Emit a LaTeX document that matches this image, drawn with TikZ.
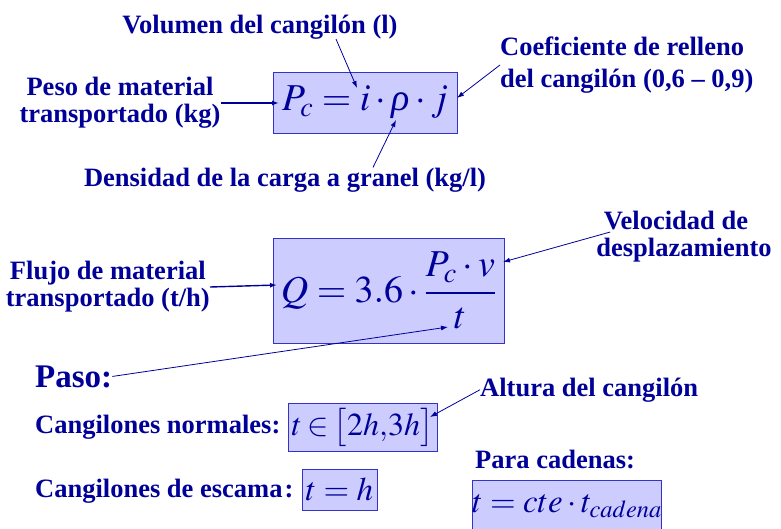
\documentclass[tikz,border=0pt]{standalone}
\usepackage{amsmath}
\usepackage{mathptmx}
\usepackage[no-math]{fontspec}
\setmainfont{Liberation Serif}
\usetikzlibrary{arrows.meta}
\definecolor{navy}{RGB}{0,0,153}
\definecolor{boxfill}{RGB}{204,204,255}
\definecolor{boxline}{RGB}{51,51,204}
\newcommand{\itrho}{\text{\itshape ρ}}

\begin{document}
\begin{tikzpicture}[x=1pt,y=-1pt,
    lbl/.style={text=navy,font=\bfseries\fontsize{26.5}{27}\selectfont,inner sep=0pt},
    eqbox/.style={draw=boxline,fill=boxfill,text=navy,inner sep=0pt,line width=1pt},
    arr/.style={draw=navy,line width=0.8pt,-{Latex[length=7pt,width=5pt]}},
    thickarr/.style={arr,line width=1.4pt}]
    \useasboundingbox (0,0) rectangle (781,528);
    \begin{scope}
      \node[eqbox,minimum width=184pt,minimum height=61pt] (pc) at (365,102.5) {\fontsize{38}{40}\selectfont$P_c=i\cdot\itrho\cdot j$};
      \node[lbl,anchor=base] (vol) at (260,33) {Volumen del cangilón (l)};
      \node[lbl,align=left,anchor=west] (coef) at (500,65) {Coeficiente de relleno\\[5pt]del cangilón (0,6 – 0,9)};
      \node[lbl,align=center] (peso) at (120,103) {Peso de material\\transportado (kg)};
      \node[lbl,anchor=base] (dens) at (285,186) {Densidad de la carga a granel (kg/l)};
      \coordinate (idot) at (357,88);
      \coordinate (jdot) at (457,98);
      \coordinate (rho) at (396,120);
      \coordinate (pin) at (279,103);
      \draw[arr] ([xshift=76pt]vol.south) -- (idot);
      \draw[arr] (coef.west) -- (jdot);
      \draw[arr] ([xshift=88pt]dens.north) -- (rho);
      \draw[thickarr] (peso.east) -- (pin);
    \end{scope}
    \begin{scope}
      \node[eqbox,minimum width=231pt,minimum height=105pt] (q) at (388.5,290.5) {\fontsize{38}{40}\selectfont$Q=3.6\cdot\dfrac{P_c\cdot v}{t}$};
      \node[lbl,align=center] (velo) at (684,237) {Velocidad de\hspace*{16pt}\\desplazamiento};
      \node[lbl,align=center,anchor=east] (flujo) at (210,287) {Flujo de material\\transportado (t/h)};
      \coordinate (vnum) at (503,262);
      \coordinate (qin) at (277,285);
      \coordinate (tden) at (448,327);
      \draw[arr] ([shift={(14pt,5pt)}]velo.west) -- (vnum);
      \draw[thickarr] (flujo.east) -- (qin);
    \end{scope}
    \begin{scope}
      \node[lbl,anchor=base west,font=\bfseries\fontsize{33}{35}\selectfont] (paso) at (35,387) {Paso:};
      \node[lbl,anchor=base west] (norm) at (35,433) {Cangilones normales:};
      \node[lbl,anchor=base west] (esc) at (35,497) {Cangilones de escama\kern2pt:};
      \node[lbl,anchor=base west] (alt) at (480,396) {Altura del cangilón};
      \node[lbl,anchor=base west] (para) at (475,468) {Para cadenas:};
      \node[eqbox,minimum width=149pt,minimum height=48pt] (tn) at (362.5,427) {\fontsize{32}{34}\selectfont\thickmuskip=3mu$t\in\bigl[2h{,}3h\bigr]$};
      \node[eqbox,minimum width=75pt,minimum height=41pt] (te) at (339.5,489.5) {\fontsize{33}{35}\selectfont$t=h$};
      \node[eqbox,minimum width=180pt,minimum height=52pt] (tc) at (567,506) {\fontsize{33}{35}\selectfont$t=cte\cdot t_{cadena}$};
      \coordinate (hbr) at (430,417);
      \draw[arr] (paso.east) -- (tden);
      \draw[arr] (alt.west) -- (hbr);
    \end{scope}
\end{tikzpicture}
\end{document}
